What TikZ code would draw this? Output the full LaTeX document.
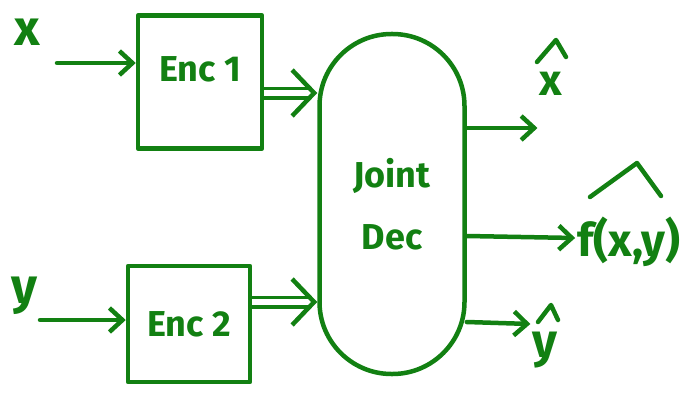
\documentclass[tikz,border=0pt]{standalone}
\usepackage{fontspec}
\setmainfont{Fira Sans}
\usepackage{xcolor}
\usepackage{tikz}
\usetikzlibrary{arrows.meta, positioning}

\definecolor{pen}{RGB}{18,128,18}

\begin{document}
\begin{tikzpicture}[x=1pt, y=-1pt, line width=4.5pt, draw=pen, text=pen, line cap=round, line join=round]
\tikzstyle{encoder} = [rectangle, draw=pen, line width=4.5pt, font=\fontsize{36}{40}\bfseries]
\tikzstyle{decoder} = [rectangle, draw=pen, line width=4.5pt, rounded corners=72pt, text width=3cm, text centered, font=\fontsize{36}{62}\bfseries]
\tikzstyle{signal} = [inner sep=0pt, font=\fontsize{50}{56}\bfseries]
\tikzstyle{feed} = [draw=pen, -{Straight Barb[length=13pt, width=24pt]}]
\tikzstyle{pass} = [draw=pen, double=white, double distance=6pt, line width=3.5pt, line cap=butt, shorten >=7pt,
  postaction={draw=white, line width=3pt, shorten >=0pt, -{Straight Barb[color=pen, line width=4.5pt, length=22pt, width=46pt]}}]
\tikzstyle{hat} = [draw=pen, line width=4.5pt]

\useasboundingbox (0,0) rectangle (688,396);

% encoders and decoder
\node (enc1) [encoder, minimum width=124pt, minimum height=133pt, text depth=26pt] at (200,82) {Enc 1};
\node (enc2) [encoder, minimum width=122pt, minimum height=116pt] at (189,324) {Enc 2};
\node (dec) [decoder, minimum width=145pt, minimum height=340pt] at (392,204) {Joint\\Dec};

% inputs
\node (x) [signal] at (27,32) {x};
\node (y) [signal] at (24,296) {y};
\coordinate (xa) at (57,63);
\coordinate (ya) at (40,320);
\draw [feed] (xa) -- (xa -| enc1.west);
\draw [feed] (ya) -- (ya -| enc2.west);

% encoder to decoder
\draw [pass] (enc1.east |- 0,93) -- (dec.west |- 0,93);
\draw [pass] (enc2.east |- 0,302) -- (dec.west |- 0,302);

% outputs
\node (xhat) [signal, font=\fontsize{44}{50}\bfseries] at (551,84) {x};
\node (fhat) [signal, font=\fontsize{46}{50}\bfseries] at (629,242) {f(x,y)};
\node (yhat) [signal, font=\fontsize{48}{50}\bfseries] at (545,350) {y};
\draw [hat] (537,62) -- (556,40) -- (566,57);
\draw [hat] (590,197) -- (637,163) -- (661,196);
\draw [hat] (538,322) -- (551,305) -- (558,320);
\draw [feed] (dec.east |- 0,128) -- (xhat.west |- 0,128);
\draw [feed] (dec.east |- 0,236) -- (fhat.west |- 0,238);
\draw [feed] (dec.east |- 0,322) -- (yhat.west |- 0,324);

\end{tikzpicture}
\end{document}
